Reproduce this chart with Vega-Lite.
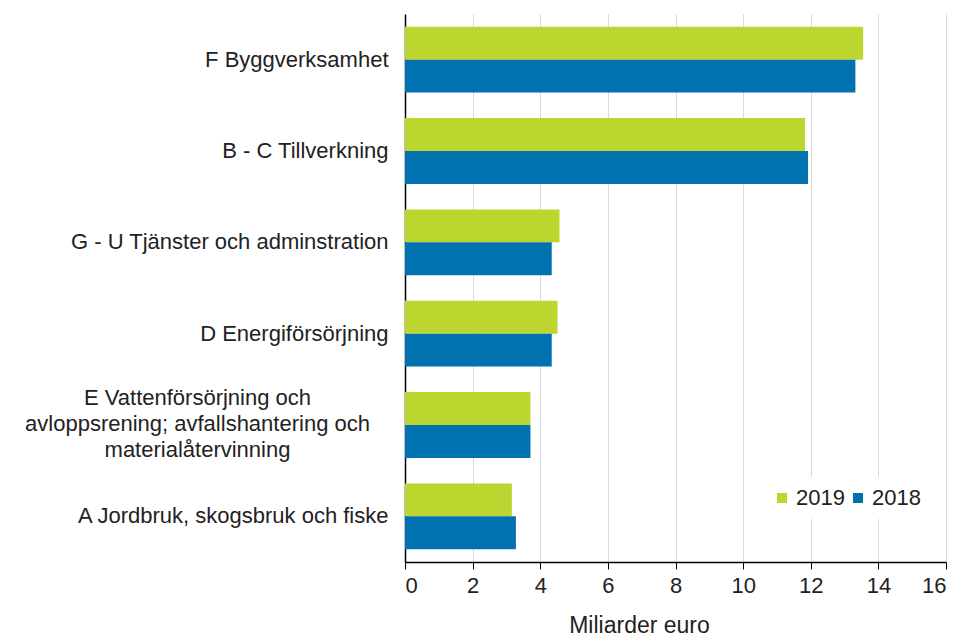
{
  "$schema": "https://vega.github.io/schema/vega-lite/v6.json",
  "autosize": "none",
  "width": 541,
  "height": 548,
  "padding": {"left": 405, "top": 14, "right": 20, "bottom": 76},
  "background": "white",
  "config": {
    "font": "Liberation Sans",
    "view": {"stroke": null},
    "axis": {"labelFont": "Liberation Sans", "titleFont": "Liberation Sans"},
    "legend": {"labelFont": "Liberation Sans"}
  },
  "data": {
    "values": [
      {"category": "F Byggverksamhet", "year": "2019", "value": 13.55},
      {"category": "F Byggverksamhet", "year": "2018", "value": 13.32},
      {"category": "B - C Tillverkning", "year": "2019", "value": 11.83},
      {"category": "B - C Tillverkning", "year": "2018", "value": 11.92},
      {"category": "G - U Tjänster och adminstration", "year": "2019", "value": 4.57},
      {"category": "G - U Tjänster och adminstration", "year": "2018", "value": 4.34},
      {"category": "D Energiförsörjning", "year": "2019", "value": 4.51},
      {"category": "D Energiförsörjning", "year": "2018", "value": 4.34},
      {"category": "E Vattenförsörjning och avloppsrening; avfallshantering och materialåtervinning", "year": "2019", "value": 3.71},
      {"category": "E Vattenförsörjning och avloppsrening; avfallshantering och materialåtervinning", "year": "2018", "value": 3.71},
      {"category": "A Jordbruk, skogsbruk och fiske", "year": "2019", "value": 3.16},
      {"category": "A Jordbruk, skogsbruk och fiske", "year": "2018", "value": 3.28}
    ]
  },
  "mark": {"type": "bar"},
  "encoding": {
    "y": {
      "field": "category",
      "type": "nominal",
      "sort": null,
      "scale": {"paddingInner": 0.28, "paddingOuter": 0.14},
      "axis": {
        "title": null,
        "ticks": false,
        "domainColor": "#000000",
        "domainWidth": 1.5,
        "labelFontSize": 22,
        "labelColor": "#222222",
        "labelLimit": 420,
        "labelLineHeight": 26,
        "labelExpr": "indexof(datum.value, 'E Vatten') == 0 ? ['E Vattenförsörjning och', 'avloppsrening; avfallshantering och', 'materialåtervinning'] : datum.value",
        "labelAlign": {"condition": {"test": "indexof(datum.value, 'E Vatten') == 0", "value": "center"}, "value": "right"},
        "labelPadding": {"condition": {"test": "indexof(datum.value, 'E Vatten') == 0", "value": 208}, "value": 17},
        "labelOffset": {"condition": {"test": "indexof(datum.value, 'E Vatten') == 0", "value": -27}, "value": 0}
      }
    },
    "yOffset": {"field": "year", "type": "nominal", "sort": ["2019", "2018"]},
    "x": {
      "field": "value",
      "type": "quantitative",
      "scale": {"domain": [0, 16], "nice": false},
      "axis": {
        "title": "Miliarder euro",
        "values": [0, 2, 4, 6, 8, 10, 12, 14, 16],
        "grid": true,
        "gridColor": "#d9d9d9",
        "domainColor": "#000000",
        "domainWidth": 1.5,
        "tickColor": "#000000",
        "tickSize": 7,
        "labelFontSize": 22,
        "labelColor": "#222222",
        "labelPadding": 6,
        "titleFontSize": 23,
        "titleFontWeight": "normal",
        "titleColor": "#222222",
        "titlePadding": 18,
        "titleX": 234
      }
    },
    "color": {
      "field": "year",
      "type": "nominal",
      "sort": ["2019", "2018"],
      "scale": {"domain": ["2019", "2018"], "range": ["#bdd52f", "#0072b0"]},
      "legend": {
        "title": null,
        "orient": "none",
        "legendX": 356,
        "legendY": 463,
        "direction": "horizontal",
        "symbolType": "square",
        "symbolSize": 100,
        "symbolStrokeWidth": 0,
        "labelFontSize": 22,
        "labelColor": "#222222",
        "labelOffset": 3,
        "columnPadding": 2,
        "fillColor": "white",
        "padding": 10
      }
    }
  }
}
